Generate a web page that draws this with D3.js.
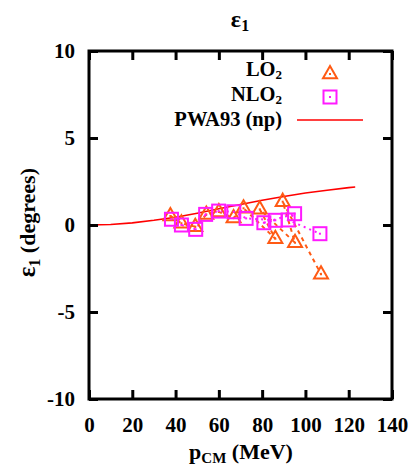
<!DOCTYPE html>
<html><head><meta charset="utf-8">
<script src="https://cdn.jsdelivr.net/npm/d3@7/dist/d3.min.js"></script>
<style>body{margin:0;background:#fff}svg{display:block}text{font-family:"Liberation Serif","Times New Roman",serif;font-weight:bold;fill:#000}</style>
</head><body>
<script>
// LO2 (triangles) – order as connected by dashed line
const pLO  = [37.6, 42.7, 49.1, 54.2, 60.0, 66.8, 71.4, 86.1, 78.9, 95.2, 89.5, 107.2];
const eLO  = [0.52, 0.10, -0.10, 0.60, 0.75, 0.40, 0.96, -0.79, 0.90, -1.02, 1.34, -2.83];
// NLO2 (squares)
const pNLO = [38.1, 42.7, 49.3, 53.9, 59.9, 66.9, 72.6, 86.1, 80.8, 95.0, 92.0, 106.7];
const eNLO = [0.33, 0.00, -0.25, 0.61, 0.80, 0.76, 0.38, 0.27, 0.13, 0.65, 0.29, -0.50];
// PWA93 (np)
const pPWA = [0, 10, 20, 30, 40, 50, 60, 70, 80, 90, 100, 110, 120, 123];
const ePWA = [0, 0.03, 0.12, 0.27, 0.45, 0.68, 0.93, 1.18, 1.42, 1.64, 1.84, 2.00, 2.15, 2.18];
const xTicks = [0, 20, 40, 60, 80, 100, 120, 140];
const yTicks = [-10, -5, 0, 5, 10];

const W = 413, H = 470;
const svg = d3.select("body").append("svg").attr("width", W).attr("height", H);
const x = d3.scaleLinear().domain([0, 140]).range([89, 392]);
const y = d3.scaleLinear().domain([-10, 10]).range([399, 51]);
const cOr = "#ff5a14", cMg = "#ff1aff";

// PWA line
svg.append("path").datum(pPWA.map((p, i) => [p, ePWA[i]]))
  .attr("fill", "none").attr("stroke", "#ff0000").attr("stroke-width", 1.6)
  .attr("d", d3.line().x(d => x(d[0])).y(d => y(d[1])));

// connecting lines
svg.append("path").datum(pLO.map((p, i) => [p, eLO[i]]))
  .attr("fill", "none").attr("stroke", cOr).attr("stroke-width", 2).attr("stroke-dasharray", "4,4")
  .attr("d", d3.line().x(d => x(d[0])).y(d => y(d[1])));
svg.append("path").datum(pNLO.map((p, i) => [p, eNLO[i]]))
  .attr("fill", "none").attr("stroke", cMg).attr("stroke-width", 2).attr("stroke-dasharray", "2,4")
  .attr("d", d3.line().x(d => x(d[0])).y(d => y(d[1])));

function tri(g, cx, cy) {
  const h = 7;
  g.append("path").attr("d", `M${cx},${cy - h * 1.15}L${cx + h},${cy + h * 0.6}L${cx - h},${cy + h * 0.6}Z`)
    .attr("fill", "none").attr("stroke", cOr).attr("stroke-width", 2);
  g.append("rect").attr("x", cx - 1).attr("y", cy - 1).attr("width", 2).attr("height", 2).attr("fill", cOr);
}
function sq(g, cx, cy) {
  const h = 6.5;
  g.append("rect").attr("x", cx - h).attr("y", cy - h).attr("width", 2 * h).attr("height", 2 * h)
    .attr("fill", "none").attr("stroke", cMg).attr("stroke-width", 2);
  g.append("rect").attr("x", cx - 1).attr("y", cy - 1).attr("width", 2).attr("height", 2).attr("fill", cMg);
}
const gm = svg.append("g");
pLO.forEach((p, i) => tri(gm, x(p), y(eLO[i])));
pNLO.forEach((p, i) => sq(gm, x(p), y(eNLO[i])));

// frame
svg.append("rect").attr("x", x(0)).attr("y", y(10)).attr("width", x(140) - x(0)).attr("height", y(-10) - y(10))
  .attr("fill", "none").attr("stroke", "#000").attr("stroke-width", 3);

// axes
const fmt = d => String(d);
const axB = d3.axisBottom(x).tickValues(xTicks).tickFormat(fmt).tickSizeInner(-9).tickSizeOuter(0).tickPadding(19);
const gB = svg.append("g").attr("transform", `translate(0,${y(-10)})`).call(axB);
const axT = d3.axisTop(x).tickValues(xTicks).tickSizeInner(-9).tickSizeOuter(0).tickFormat("");
const gT = svg.append("g").attr("transform", `translate(0,${y(10)})`).call(axT);
const axL = d3.axisLeft(y).tickValues(yTicks).tickFormat(fmt).tickSizeInner(-9).tickSizeOuter(0).tickPadding(14);
const gL = svg.append("g").attr("transform", `translate(${x(0)},0)`).call(axL);
const axR = d3.axisRight(y).tickValues(yTicks).tickSizeInner(-9).tickSizeOuter(0).tickFormat("");
const gR = svg.append("g").attr("transform", `translate(${x(140)},0)`).call(axR);
[gB, gT, gL, gR].forEach(g => {
  g.select(".domain").remove();
  g.selectAll(".tick line").attr("stroke", "#000").attr("stroke-width", 3);
  g.selectAll("text").attr("font-size", 21).attr("font-family", null).style("font-family", "'Liberation Serif',serif").attr("font-weight", "bold");
});
gB.selectAll(".tick text").attr("dy", "0.68em");

// title
const t = svg.append("text").attr("x", 240).attr("y", 27).attr("text-anchor", "middle").attr("font-size", 22);
t.append("tspan").attr("font-size", 24).text("ε");
t.append("tspan").attr("font-size", 16).attr("dy", 4).text("1");

// y label
const yl = svg.append("text").attr("transform", "translate(35,168) rotate(-90)").attr("text-anchor", "end").attr("font-size", 22);
yl.append("tspan").attr("font-size", 25).text("ε");
yl.append("tspan").attr("font-size", 16).attr("dy", 5).text("1");
yl.append("tspan").attr("dy", -5).text(" (degrees)");

// x label
const xl = svg.append("text").attr("x", 241).attr("y", 459).attr("text-anchor", "middle").attr("font-size", 22);
xl.append("tspan").text("p");
xl.append("tspan").attr("font-size", 15).attr("dy", 4).text("CM");
xl.append("tspan").attr("dy", -4).text(" (MeV)");

// legend
function legText(txt, sub, yy) {
  const tt = svg.append("text").attr("x", 282).attr("y", yy).attr("text-anchor", "end").attr("font-size", 20.5);
  tt.append("tspan").text(txt);
  if (sub) tt.append("tspan").attr("font-size", 13).attr("dy", 3).text(sub);
}
legText("LO", "2", 76);
legText("NLO", "2", 101);
legText("PWA93 (np)", null, 125.5);
tri(svg, 330, 74);
sq(svg, 330, 97);
svg.append("line").attr("x1", 297).attr("x2", 363).attr("y1", 120).attr("y2", 120).attr("stroke", "#ff0000").attr("stroke-width", 1.6);
</script>
</body></html>
